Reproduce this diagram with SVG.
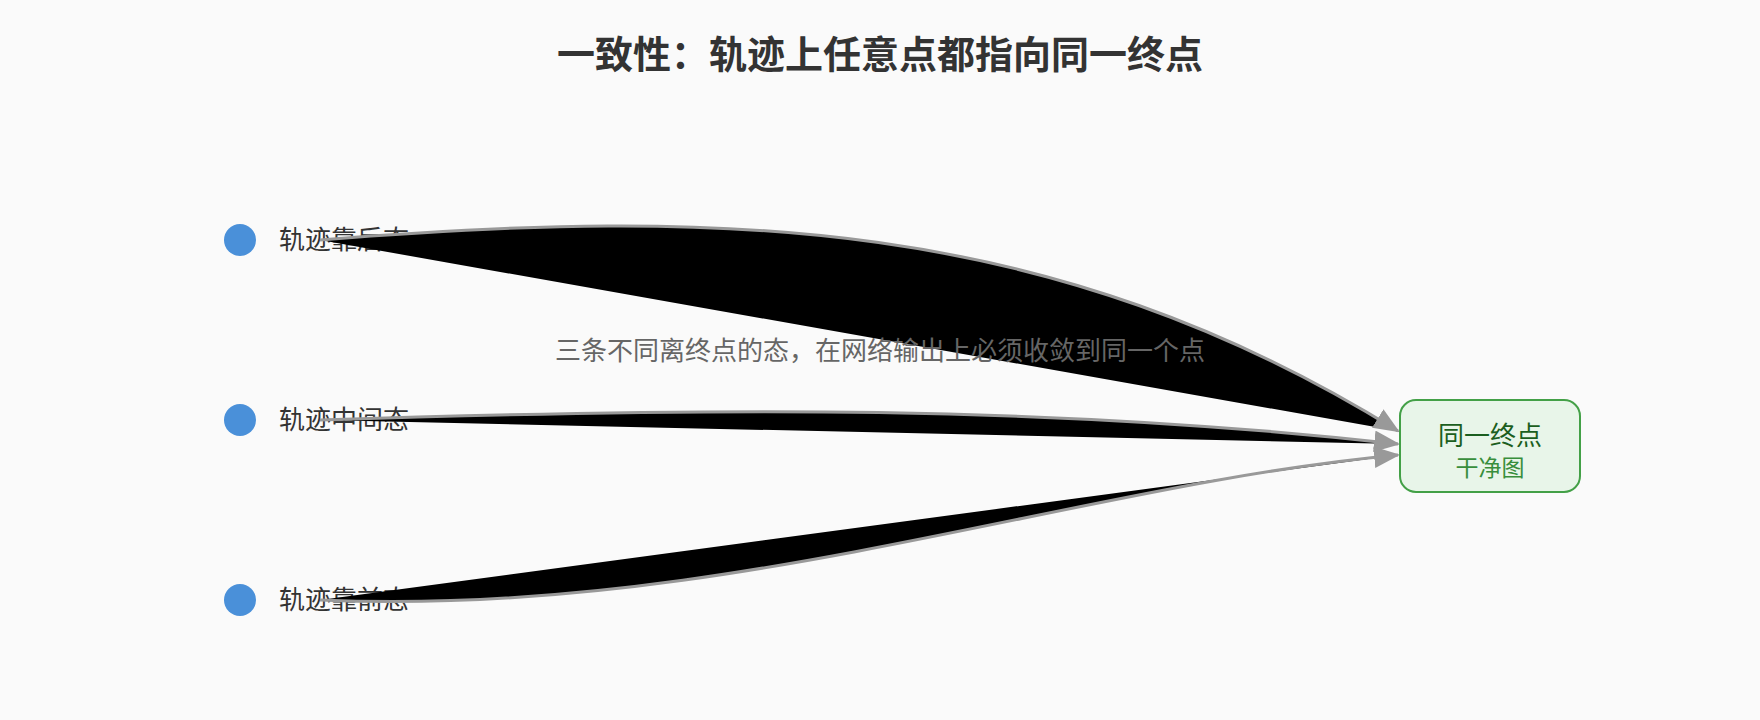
<svg xmlns="http://www.w3.org/2000/svg" width="1760" height="720" viewBox="0 0 1760 720">
  <defs>
    <style>
      .bg { fill: #fafafa; }
      .title { font-family: "Noto Sans CJK SC", "Noto Sans", sans-serif; font-size: 38px; font-weight: bold; fill: #333333; }
      .subtitle { font-family: "Noto Sans CJK SC", "Noto Sans", sans-serif; font-size: 26px; fill: #666666; }
      .dot { fill: #4a90d9; }
      .lbl { font-family: "Noto Sans CJK SC", "Noto Sans", sans-serif; font-size: 26px; fill: #333333; }
      .edge { fill: #000000; stroke: #999999; stroke-width: 3; marker-end: url(#arrow); }
      .endbox { fill: #e8f5e9; stroke: #43a047; stroke-width: 2; }
      .endmain { font-family: "Noto Sans CJK SC", "Noto Sans", sans-serif; font-size: 26px; fill: #1b5e20; }
      .endsub { font-family: "Noto Sans CJK SC", "Noto Sans", sans-serif; font-size: 23px; fill: #388e3c; }
    </style>
    <marker id="arrow" markerUnits="userSpaceOnUse" markerWidth="26" markerHeight="22" viewBox="0 0 24 20" refX="22" refY="10" orient="auto">
      <path d="M0,0 L24,10 L0,20 z" fill="#999999"/>
    </marker>
  </defs>

  <rect class="bg" x="0" y="0" width="1760" height="720"/>

  <text class="title" x="880" y="68" text-anchor="middle">一致性：轨迹上任意点都指向同一终点</text>

  <g id="node-late">
    <circle class="dot" cx="240" cy="240" r="16"/>
    <text class="lbl" x="279" y="249">轨迹靠后态</text>
  </g>
  <g id="node-mid">
    <circle class="dot" cx="240" cy="420" r="16"/>
    <text class="lbl" x="279" y="429">轨迹中间态</text>
  </g>
  <g id="node-early">
    <circle class="dot" cx="240" cy="600" r="16"/>
    <text class="lbl" x="279" y="609">轨迹靠前态</text>
  </g>

  <g id="connectors">
    <path class="edge" d="M320,240 C720,208 1050,215 1398,431"/>
    <path class="edge" d="M320,420 C720,407 1050,405 1398,444"/>
    <path class="edge" d="M320,600 C720,618 1080,484 1398,455"/>
  </g>

  <g id="node-end">
    <rect class="endbox" x="1400" y="400" width="180" height="92" rx="16" ry="16"/>
    <text class="endmain" x="1490" y="445" text-anchor="middle">同一终点</text>
    <text class="endsub" x="1490" y="476" text-anchor="middle">干净图</text>
  </g>

  <text class="subtitle" x="880" y="360" text-anchor="middle">三条不同离终点的态，在网络输出上必须收敛到同一个点</text>
</svg>
